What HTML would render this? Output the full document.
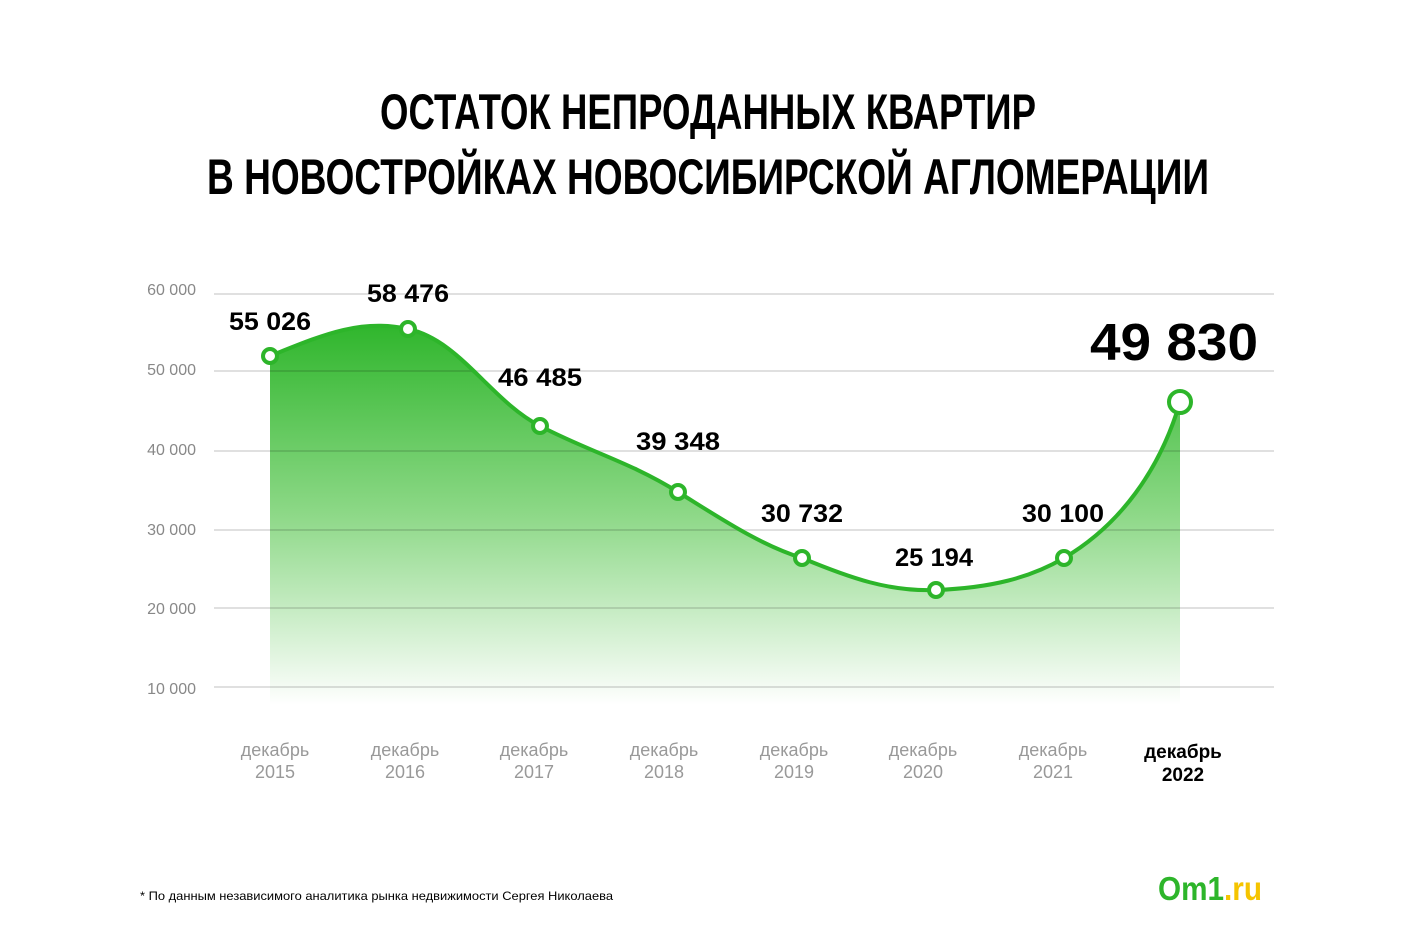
<!DOCTYPE html>
<html><head><meta charset="utf-8"><style>
html,body{margin:0;padding:0;background:#fff;}
svg{display:block;}
</style></head><body>
<svg width="1414" height="942" viewBox="0 0 1414 942" xmlns="http://www.w3.org/2000/svg" font-family="Liberation Sans, sans-serif">
<defs>
<linearGradient id="fill" gradientUnits="userSpaceOnUse" x1="0" y1="320" x2="0" y2="705">
<stop offset="0" stop-color="#2db52a"/>
<stop offset="0.5" stop-color="#8cd886"/>
<stop offset="1" stop-color="#ffffff"/>
</linearGradient>
</defs>
<g font-family="Liberation Sans Narrow, Liberation Sans, sans-serif" font-weight="bold" font-size="50" fill="#000" text-anchor="middle">
<text x="708" y="129" textLength="656" lengthAdjust="spacingAndGlyphs">ОСТАТОК НЕПРОДАННЫХ КВАРТИР</text>
<text x="708" y="194" textLength="1002" lengthAdjust="spacingAndGlyphs">В НОВОСТРОЙКАХ НОВОСИБИРСКОЙ АГЛОМЕРАЦИИ</text>
</g>
<path d="M270,356 C320,336 360,318 408,329 C460,340 490,400 540,426 C590,452 630,462 678,492 C720,518 760,545 802,558 C850,578 890,592 936,590 C990,588 1030,578 1064,558 C1120,525 1160,470 1180,402 L1180,705 L270,705 Z" fill="url(#fill)"/>
<g stroke="#000" stroke-opacity="0.12" stroke-width="2">
<line x1="214" y1="294" x2="1274" y2="294"/>
<line x1="214" y1="371" x2="1274" y2="371"/>
<line x1="214" y1="451" x2="1274" y2="451"/>
<line x1="214" y1="530" x2="1274" y2="530"/>
<line x1="214" y1="608" x2="1274" y2="608"/>
<line x1="214" y1="687" x2="1274" y2="687"/>
</g>
<g font-size="16" fill="#888" text-anchor="end">
<text x="196" y="295">60 000</text>
<text x="196" y="375">50 000</text>
<text x="196" y="455">40 000</text>
<text x="196" y="535">30 000</text>
<text x="196" y="614">20 000</text>
<text x="196" y="694">10 000</text>
</g>
<path d="M270,356 C320,336 360,318 408,329 C460,340 490,400 540,426 C590,452 630,462 678,492 C720,518 760,545 802,558 C850,578 890,592 936,590 C990,588 1030,578 1064,558 C1120,525 1160,470 1180,402" fill="none" stroke="#2db52a" stroke-width="4"/>
<g fill="#fff" stroke="#2db52a" stroke-width="4">
<circle cx="270" cy="356" r="7"/>
<circle cx="408" cy="329" r="7"/>
<circle cx="540" cy="426" r="7"/>
<circle cx="678" cy="492" r="7"/>
<circle cx="802" cy="558" r="7"/>
<circle cx="936" cy="590" r="7"/>
<circle cx="1064" cy="558" r="7"/>
<circle cx="1180" cy="402" r="11"/>
</g>
<g font-size="25" font-weight="bold" fill="#000" text-anchor="middle">
<text x="270" y="330" textLength="82" lengthAdjust="spacingAndGlyphs">55 026</text>
<text x="408" y="302" textLength="82" lengthAdjust="spacingAndGlyphs">58 476</text>
<text x="540" y="386" textLength="84" lengthAdjust="spacingAndGlyphs">46 485</text>
<text x="678" y="450" textLength="84" lengthAdjust="spacingAndGlyphs">39 348</text>
<text x="802" y="522" textLength="82" lengthAdjust="spacingAndGlyphs">30 732</text>
<text x="934" y="566" textLength="78" lengthAdjust="spacingAndGlyphs">25 194</text>
<text x="1063" y="522" textLength="82" lengthAdjust="spacingAndGlyphs">30 100</text>
<text x="1174" y="360" font-size="52" textLength="168" lengthAdjust="spacingAndGlyphs">49 830</text>
</g>
<g font-size="18" fill="#999" text-anchor="middle">
<text x="275" y="756">декабрь</text><text x="275" y="778">2015</text>
<text x="405" y="756">декабрь</text><text x="405" y="778">2016</text>
<text x="534" y="756">декабрь</text><text x="534" y="778">2017</text>
<text x="664" y="756">декабрь</text><text x="664" y="778">2018</text>
<text x="794" y="756">декабрь</text><text x="794" y="778">2019</text>
<text x="923" y="756">декабрь</text><text x="923" y="778">2020</text>
<text x="1053" y="756">декабрь</text><text x="1053" y="778">2021</text>
</g>
<g font-size="19" font-weight="bold" fill="#000" text-anchor="middle">
<text x="1183" y="758">декабрь</text><text x="1183" y="781">2022</text>
</g>
<text x="140" y="900" font-size="12" fill="#000" textLength="473" lengthAdjust="spacingAndGlyphs">* По данным независимого аналитика рынка недвижимости Сергея Николаева</text>
<text x="1158" y="900" font-size="33" font-weight="bold" fill="#2db52a" textLength="104" lengthAdjust="spacingAndGlyphs">Om1<tspan fill="#f5c400">.ru</tspan></text>
</svg>
</body></html>
